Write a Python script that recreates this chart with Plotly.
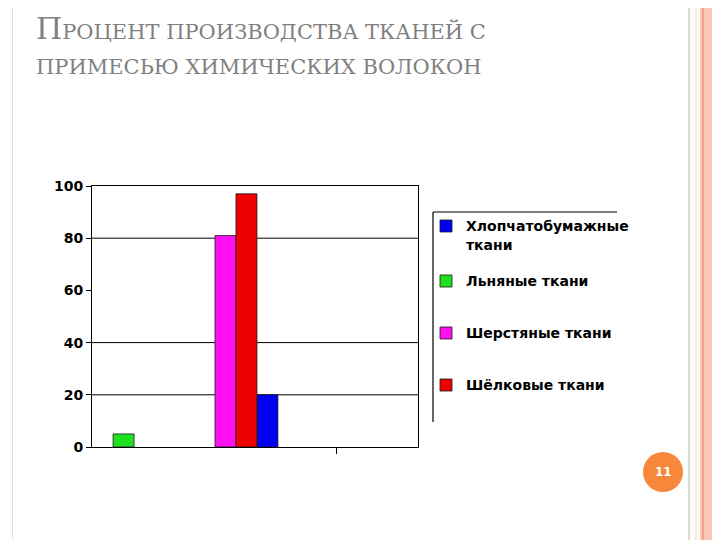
import plotly.graph_objects as go

# группы по оси X (подписей на слайде нет)
groups = [0, 1, 2]
names = ["Хлопчатобумажные<br>ткани", "Льняные ткани", "Шерстяные ткани", "Шёлковые ткани"]
cotton = [None, 20, None]
linen = [5, None, None]
wool = [None, 81, None]
silk = [None, 97, None]
y_ticks = [0, 20, 40, 60, 80, 100]
grid_levels = [20, 40, 80]

# page has 8px body margin, so the figure is shifted by it
OFF = 8
W, H = 720, 540
# plot area in page pixels
L, R, T, B = 92, 418, 186, 447


def px(x):
    return (x - L) / (R - L)


def py(y):
    return (B - y) / (B - T)


fig = go.Figure()
bar_w = 0.193
fig.add_trace(go.Bar(x=groups, y=cotton, name=names[0], offset=0.018, width=bar_w,
                     marker=dict(color="#0000F0", line=dict(color="#1a1a1a", width=0.8)),
                     legend="legend", legendgroup="a"))
fig.add_trace(go.Bar(x=groups, y=linen, name=names[1], offset=-0.306, width=bar_w,
                     marker=dict(color="#1EE01E", line=dict(color="#1a1a1a", width=0.8)),
                     legend="legend2", legendgroup="b"))
fig.add_trace(go.Bar(x=groups, y=wool, name=names[2], offset=-0.368, width=bar_w,
                     marker=dict(color="#FF10F0", line=dict(color="#1a1a1a", width=0.8)),
                     legend="legend2", legendgroup="c"))
fig.add_trace(go.Bar(x=groups, y=silk, name=names[3], offset=-0.175, width=bar_w,
                     marker=dict(color="#EE0000", line=dict(color="#1a1a1a", width=0.8)),
                     legend="legend2", legendgroup="d"))

shapes = []
for g in grid_levels:
    shapes.append(dict(type="line", xref="paper", yref="y", x0=0, x1=1, y0=g, y1=g,
                       line=dict(color="black", width=1), layer="below"))

# legend frame (top and left only)
shapes.append(dict(type="line", xref="paper", yref="paper", x0=px(433), x1=px(617),
                   y0=py(212), y1=py(212), line=dict(color="black", width=1.2)))
shapes.append(dict(type="line", xref="paper", yref="paper", x0=px(433), x1=px(433),
                   y0=py(212), y1=py(422), line=dict(color="black", width=1.2)))

# slide border stripes
shapes.append(dict(type="rect", xref="paper", yref="paper", x0=px(3), x1=px(8),
                   y0=py(560), y1=py(-20), fillcolor="#FCC3AD", line=dict(width=0), layer="below"))
shapes.append(dict(type="line", xref="paper", yref="paper", x0=px(12.5), x1=px(12.5),
                   y0=py(560), y1=py(-20), line=dict(color="#F6DCCB", width=1)))
shapes.append(dict(type="line", xref="paper", yref="paper", x0=px(689), x1=px(689),
                   y0=py(560), y1=py(-20), line=dict(color="#DCC8BC", width=1.5)))
shapes.append(dict(type="line", xref="paper", yref="paper", x0=px(696), x1=px(696),
                   y0=py(560), y1=py(-20), line=dict(color="#FBEBDD", width=3)))
shapes.append(dict(type="rect", xref="paper", yref="paper", x0=px(700), x1=px(740),
                   y0=py(560), y1=py(-20), fillcolor="#FDC7B5", line=dict(width=0)))
shapes.append(dict(type="line", xref="paper", yref="paper", x0=px(703), x1=px(703),
                   y0=py(560), y1=py(-20), line=dict(color="#F29878", width=1.5)))

# page number circle
shapes.append(dict(type="circle", xref="paper", yref="paper", x0=px(643), x1=px(683),
                   y0=py(492), y1=py(452), fillcolor="#F7883B", line=dict(width=0)))

annotations = [
    dict(text="<span style='font-size:30px'>П</span>РОЦЕНТ ПРОИЗВОДСТВА ТКАНЕЙ С",
         xref="paper", yref="paper", x=px(34), y=py(28), xanchor="left", yanchor="middle",
         showarrow=False, font=dict(family="DejaVu Serif", size=21, color="#808080")),
    dict(text="ПРИМЕСЬЮ ХИМИЧЕСКИХ ВОЛОКОН",
         xref="paper", yref="paper", x=px(34), y=py(67), xanchor="left", yanchor="middle",
         showarrow=False, font=dict(family="DejaVu Serif", size=21, color="#808080")),
    dict(text="<b>11</b>", xref="paper", yref="paper", x=px(663), y=py(472),
         xanchor="center", yanchor="middle", showarrow=False,
         font=dict(family="DejaVu Sans", size=12, color="white")),
]

legend_font = dict(family="DejaVu Sans", size=14, color="black", weight="bold")
fig.update_layout(
    width=W, height=H,
    margin=dict(l=L - OFF, r=W - (R - OFF), t=T - OFF, b=H - (B - OFF)),
    paper_bgcolor="white", plot_bgcolor="white",
    barmode="overlay",
    showlegend=True,
    legend=dict(x=px(426), y=py(210.4), xanchor="left", yanchor="top", font=legend_font,
                bgcolor="rgba(0,0,0,0)", valign="top"),
    legend2=dict(x=px(426), y=py(265.4), xanchor="left", yanchor="top", font=legend_font,
                 bgcolor="rgba(0,0,0,0)", tracegroupgap=30.8, traceorder="grouped"),
    shapes=shapes,
    annotations=annotations,
    xaxis=dict(range=[-0.5, 2.5], showgrid=False, zeroline=False, showline=True,
               linecolor="black", linewidth=1, mirror=True,
               tickvals=[1.754], ticks="outside", ticklen=6, tickcolor="black",
               showticklabels=False, fixedrange=True),
    yaxis=dict(range=[0, 100], tickvals=y_ticks, showgrid=False, zeroline=False,
               showline=True, linecolor="black", linewidth=1, mirror=True,
               ticks="outside", ticklen=5, tickcolor="black",
               tickfont=dict(family="DejaVu Sans", size=14, color="black", weight="bold"),
               fixedrange=True),
)

fig.write_html("out.html")
